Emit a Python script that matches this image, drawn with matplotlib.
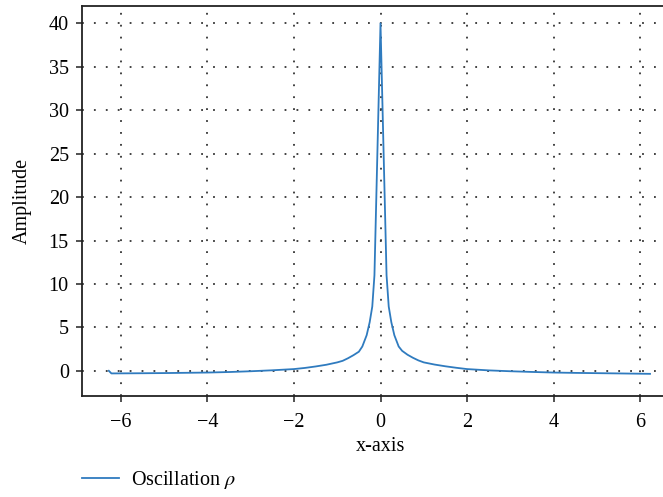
import matplotlib
matplotlib.use("Agg")
import matplotlib.pyplot as plt

# values
x_left = [-6.28, -6.22, -5.5, -5.0, -4.5, -4.0, -3.5, -3.0, -2.5, -2.0, -1.75, -1.5,
          -1.25, -1.0, -0.875, -0.75, -0.625, -0.5, -0.42, -0.32, -0.25, -0.19, -0.14]
y_left = [0.0, -0.3, -0.28, -0.26, -0.23, -0.2, -0.14, -0.05, 0.06, 0.2, 0.33, 0.5,
          0.7, 0.97, 1.15, 1.45, 1.8, 2.2, 2.8, 4.1, 5.6, 7.4, 11.0]
x_peak = [0.0]
y_peak = [40.0]
x_right = [0.14, 0.19, 0.25, 0.32, 0.42, 0.5, 0.625, 0.75, 0.875, 1.0, 1.25, 1.5,
           1.75, 2.0, 2.5, 3.0, 3.5, 4.0, 4.5, 5.0, 5.5, 6.23]
y_right = [11.0, 7.4, 5.6, 4.1, 2.8, 2.3, 1.85, 1.5, 1.2, 0.97, 0.72, 0.52,
           0.35, 0.2, 0.05, -0.05, -0.13, -0.2, -0.24, -0.27, -0.3, -0.35]

x_vals = x_left + x_peak + x_right
y_vals = y_left + y_peak + y_right

xticks = [-6, -4, -2, 0, 2, 4, 6]
yticks = [0, 5, 10, 15, 20, 25, 30, 35, 40]

plt.rcParams['font.family'] = 'Liberation Serif'
plt.rcParams['mathtext.fontset'] = 'stix'
plt.rcParams['font.size'] = 14.5

fig = plt.figure(figsize=(6.63, 4.97), dpi=100)
ax = fig.add_axes([82 / 663, 1 - 396 / 497, 597 / 663, 390 / 497])

ax.plot(x_vals, y_vals, color='#2f7bbf', linewidth=1.3, label=r'Oscillation $\rho$')

ax.set_xlim(-6.9, 6.9)
ax.set_ylim(-2.9, 42)
ax.set_xticks(xticks)
ax.set_yticks(yticks)
ax.grid(True, color='#333333', linestyle=(0, (1, 5.6)), linewidth=1.3)
ax.tick_params(direction='out', length=4.5, width=1.1, color='#222222', pad=5)
ax.tick_params(axis='x', pad=8)
for side in ['left', 'top', 'bottom', 'right']:
    ax.spines[side].set_linewidth(1.3)
    ax.spines[side].set_color('#222222')

ax.set_xlabel('x-axis', labelpad=3)
ax.set_ylabel('Amplitude', labelpad=12)

fig.legend(loc='center left', bbox_to_anchor=(82 / 663, 1 - 480 / 497), frameon=False,
           borderpad=0, borderaxespad=0, handlelength=1.85, handletextpad=0.6)

fig.savefig('out.png', dpi=100)
